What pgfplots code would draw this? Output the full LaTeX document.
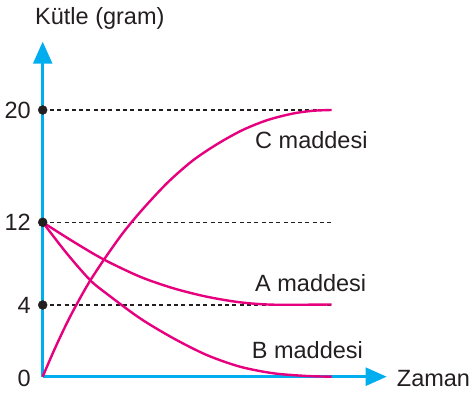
\documentclass[border=0pt]{standalone}
\usepackage{pgfplots}
\pgfplotsset{compat=1.18}
\usepackage{fontspec}
\setmainfont{Liberation Sans}
\usetikzlibrary{arrows.meta}
\definecolor{axisblue}{HTML}{00AEEF}
\definecolor{curvemag}{HTML}{E6007E}
\definecolor{txt}{HTML}{231F20}
\begin{document}
\begin{tikzpicture}
\path[use as bounding box] (-42.7pt,-21.3pt) rectangle (429.3pt,376.7pt);
\begin{axis}[
  x=1pt, y=1pt,
  xmin=0, xmax=344, ymin=0, ymax=335,
  axis lines=left,
  axis line style={line width=2.5pt, color=axisblue},
  every outer x axis line/.append style={-{Triangle[width=18pt,length=21pt]}},
  every outer y axis line/.append style={-{Triangle[width=19pt,length=22pt]}},
  xtick=\empty,
  ytick=\empty,
  major tick length=0pt,
  clip=false,
]
% dashed reference lines
\addplot[txt, line width=1.1pt, dash pattern=on 4pt off 3.3pt] coordinates {(0,266.7) (289,266.7)};
\addplot[txt, line width=1.1pt, dash pattern=on 4pt off 3.3pt] coordinates {(0,154.4) (289,154.4)};
\addplot[txt, line width=1.1pt, dash pattern=on 4pt off 3.3pt] coordinates {(0,71.7) (289,71.7)};
% C
\addplot[curvemag, line width=2.4pt, smooth] coordinates {
(0,0) (10,23.3) (20,45.0) (30,65.0) (45,92.0) (60,115.2) (80,143.4) (100,167.5)
(125,194.2) (150,216.1) (175,232.9) (200,246.7) (225,256.7) (250,263.1) (270,265.9) (289,266.7)};
% A
\addplot[curvemag, line width=2.4pt, smooth] coordinates {
(0,154.4) (30.7,135) (60.7,117.4) (97.3,100) (130.7,88.4) (164,80) (197.3,74.4) (230.7,72) (289,72.2)};
% B
\addplot[curvemag, line width=2.4pt, smooth] coordinates {
(0,154.4) (24,123.4) (47.3,96.7) (64,83) (97.3,58.4) (130.7,38.4) (164,21.7) (197.3,10) (230.7,3.4) (264,0.7) (289,0)};
% dots
\addplot[only marks, mark=*, mark size=4.5pt, color=txt] coordinates {(0,266.7) (0,154.4) (0,71.7)};
% y value labels (schematic scale)
\node[anchor=east, inner sep=0pt, text=txt, font=\fontsize{23.5}{28}\selectfont] at (axis cs:-11.7,266.7) {20};
\node[anchor=east, inner sep=0pt, text=txt, font=\fontsize{23.5}{28}\selectfont] at (axis cs:-11.7,154.4) {12};
\node[anchor=east, inner sep=0pt, text=txt, font=\fontsize{23.5}{28}\selectfont] at (axis cs:-11.7,71.7) {4};
\node[anchor=east, inner sep=0pt, text=txt, font=\fontsize{23.5}{28}\selectfont] at (axis cs:-11.7,-1.5) {0};
% labels
\node[anchor=base west, inner sep=0pt, text=txt, font=\fontsize{23.5}{28}\selectfont] at (axis cs:212.3,228.4) {C maddesi};
\node[anchor=base west, inner sep=0pt, text=txt, font=\fontsize{23.5}{28}\selectfont] at (axis cs:212.3,85) {A maddesi};
\node[anchor=base west, inner sep=0pt, text=txt, font=\fontsize{23.5}{28}\selectfont] at (axis cs:209,17.7) {B maddesi};
\node[anchor=base west, inner sep=0pt, text=txt, font=\fontsize{23.5}{28}\selectfont] at (axis cs:354,-10) {Zaman};
\node[anchor=base west, inner sep=0pt, text=txt, font=\fontsize{23.5}{28}\selectfont] at (axis cs:-7.7,351.7) {Kütle (gram)};
\end{axis}
\end{tikzpicture}
\end{document}
